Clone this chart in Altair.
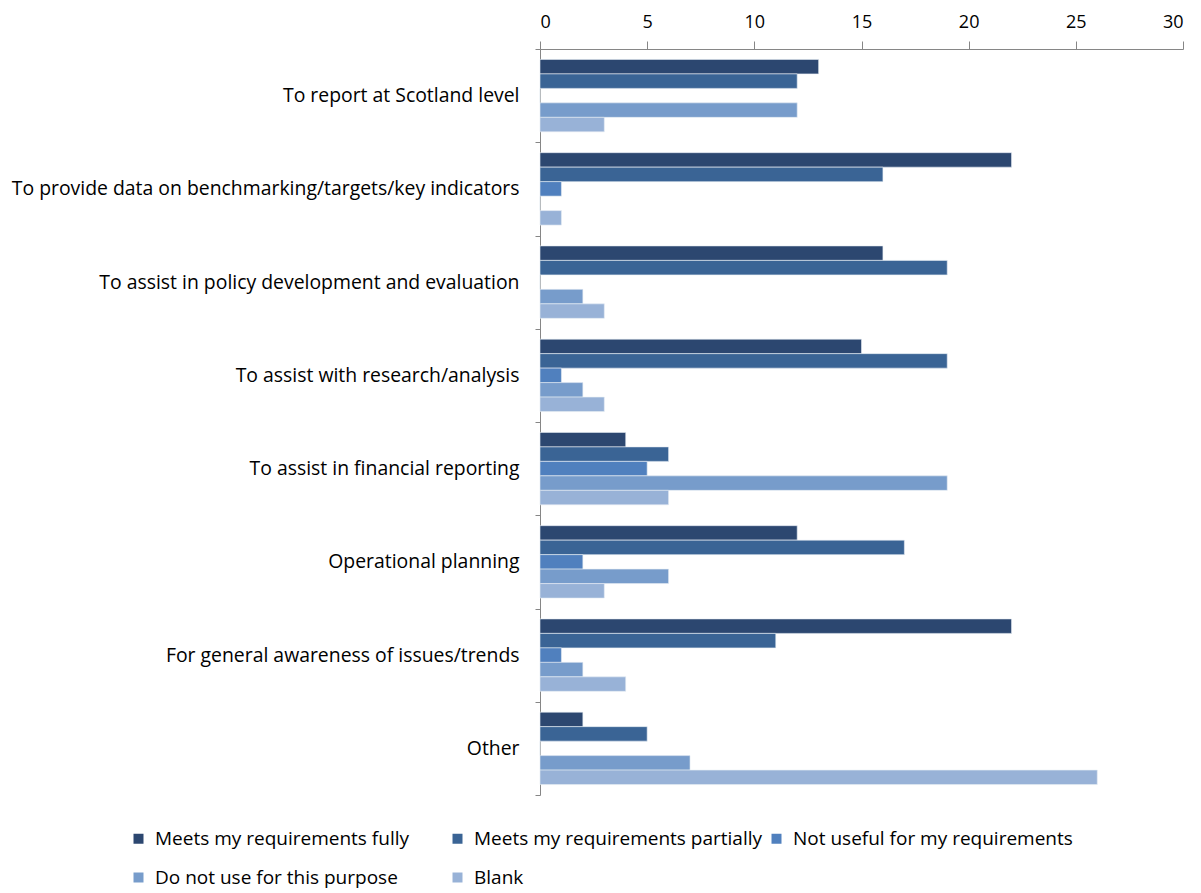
import altair as alt
import pandas as pd

categories = [
    "To report at Scotland level",
    "To provide data on benchmarking/targets/key indicators",
    "To assist in policy development and evaluation",
    "To assist with research/analysis",
    "To assist in financial reporting",
    "Operational planning",
    "For general awareness of issues/trends",
    "Other",
]
series = [
    "Meets my requirements fully",
    "Meets my requirements partially",
    "Not useful for my requirements",
    "Do not use for this purpose",
    "Blank",
]
fully = [13, 22, 16, 15, 4, 12, 22, 2]
partially = [12, 16, 19, 19, 6, 17, 11, 5]
not_useful = [0, 1, 0, 1, 5, 2, 1, 0]
do_not_use = [12, 0, 2, 2, 19, 6, 2, 7]
blank = [3, 1, 3, 3, 6, 3, 4, 26]
colors = ["#2C4770", "#3A6495", "#5080BE", "#779CCB", "#98B2D7"]

rows = []
for s, vals in zip(series, [fully, partially, not_useful, do_not_use, blank]):
    for c, v in zip(categories, vals):
        rows.append({"category": c, "series": s, "value": v})
df = pd.DataFrame(rows)

FONT = "Open Sans"

chart = alt.Chart(df).mark_bar(stroke="#E6ECF4", strokeWidth=0.6).encode(
    x=alt.X("value:Q",
            scale=alt.Scale(domain=[0, 30], nice=False),
            axis=alt.Axis(orient="top", values=[0, 5, 10, 15, 20, 25, 30], title=None,
                          grid=False, tickSize=8, tickColor="#868686", domainColor="#868686",
                          labelFont=FONT, labelFontSize=18, labelColor="#000000",
                          labelPadding=10)),
    y=alt.Y("category:N", sort=categories,
            scale=alt.Scale(paddingInner=0, paddingOuter=0),
            axis=alt.Axis(title=None, tickBand="extent", tickSize=5, tickColor="#868686",
                          domainColor="#868686", labelFont=FONT, labelFontSize=19.4,
                          labelColor="#000000", labelPadding=16, labelLimit=600)),
    yOffset=alt.YOffset("series:N", sort=series,
                        scale=alt.Scale(paddingInner=0, paddingOuter=0.72)),
    color=alt.Color("series:N", sort=series,
                    scale=alt.Scale(domain=series, range=colors),
                    legend=alt.Legend(orient="none", legendX=-411, legendY=780, direction="horizontal",
                                      columns=3, gridAlign="all", title=None,
                                      symbolType="square", symbolSize=100, symbolStrokeWidth=0,
                                      labelFont=FONT, labelFontSize=19, labelColor="#000000",
                                      columnPadding=4, rowPadding=19, labelOffset=7,
                                      labelLimit=400)),
).properties(
    width=643, height=746,
    autosize=alt.AutoSizeParams(type="none"),
    padding={"left": 532, "top": 41, "right": 10, "bottom": 105},
).configure_view(stroke=None)

chart.save("out.html", embed_options={"renderer": "svg", "actions": False})
